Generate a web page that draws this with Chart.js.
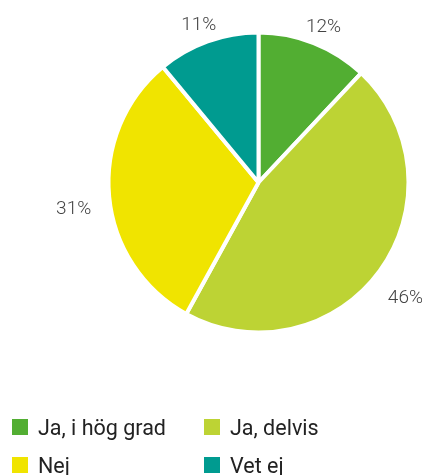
<!DOCTYPE html>
<html>
<head>
<meta charset="utf-8">
<script src="https://cdn.jsdelivr.net/npm/chart.js@4"></script>
<style>
  body { margin: 0; background: #fff; font-family: Roboto, sans-serif; }
  #wrap { position: relative; width: 422px; height: 475px; }
  #legend {
    position: absolute; left: 12px; top: 417px;
    display: grid; grid-template-columns: 192px 192px; row-gap: 18px;
  }
  .item { display: flex; align-items: center; height: 20px; font-size: 21.5px; color: #222; }
  .box { width: 16px; height: 16px; margin-right: 10px; flex: none; }
</style>
</head>
<body>
<div id="wrap">
  <canvas id="chart" width="422" height="475"></canvas>
  <div id="legend"></div>
</div>
<script>
const labels = ["Ja, i hög grad", "Ja, delvis", "Nej", "Vet ej"];
const values = [12, 46, 31, 11];
const colors = ["#52ae32", "#bdd334", "#f0e400", "#009b90"];

// percent labels outside the pie, at the middle angle of each slice
const outsideLabels = {
  id: "outsideLabels",
  afterDraw(chart) {
    const ctx = chart.ctx;
    const meta = chart.getDatasetMeta(0);
    ctx.save();
    ctx.font = "300 19px Roboto";
    ctx.fillStyle = "#444";
    ctx.textAlign = "center";
    ctx.textBaseline = "middle";
    meta.data.forEach((arc, i) => {
      const a = (arc.startAngle + arc.endAngle) / 2;
      const text = values[i] + "%";
      const w = ctx.measureText(text).width, h = 16;
      const sx = Math.cos(a), sy = Math.sin(a);
      const edge = Math.min(w / 2 / Math.max(Math.abs(sx), 1e-6), h / 2 / Math.max(Math.abs(sy), 1e-6));
      const r = arc.outerRadius + 18 + edge;
      ctx.fillText(text, arc.x + sx * r, arc.y + sy * r + 9);
    });
    ctx.restore();
  }
};

new Chart(document.getElementById("chart"), {
  type: "pie",
  data: {
    labels: labels,
    datasets: [{
      data: values,
      backgroundColor: colors,
      borderColor: "#fff",
      borderWidth: 4
    }]
  },
  options: {
    responsive: false,
    animation: false,
    layout: { padding: { left: 106.5, right: 11.5, top: 30.5, bottom: 140.5 } },
    plugins: { legend: { display: false }, tooltip: { enabled: false } }
  },
  plugins: [outsideLabels]
});

const legend = document.getElementById("legend");
labels.forEach((name, i) => {
  const item = document.createElement("div");
  item.className = "item";
  item.innerHTML = `<span class="box" style="background:${colors[i]}"></span><span>${name}</span>`;
  legend.appendChild(item);
});
</script>
</body>
</html>
